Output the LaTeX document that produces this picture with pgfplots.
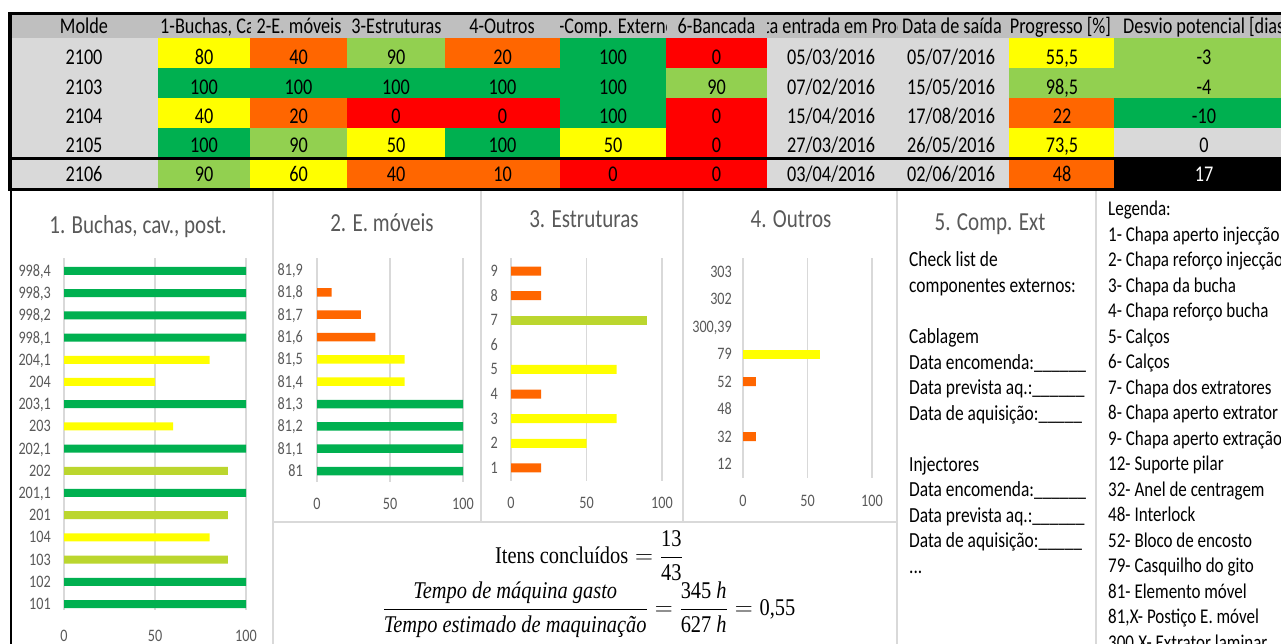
\documentclass[border=0pt]{standalone}
\usepackage{pgfplots}
\pgfplotsset{compat=1.18}
\usepackage{fontspec}
\setmainfont{Carlito}[FakeStretch=0.81]
\newfontfamily\fserif{Liberation Serif}[FakeStretch=0.85]
\definecolor{cgreen}{HTML}{00B050}
\definecolor{clgreen}{HTML}{92D050}
\definecolor{cyg}{HTML}{BBD62E}
\definecolor{cyellow}{HTML}{FFFF00}
\definecolor{corange}{HTML}{FF6600}
\definecolor{cred}{HTML}{FF0000}
\definecolor{cgray}{HTML}{D9D9D9}
\definecolor{chead}{HTML}{BFBFBF}
\definecolor{ctext}{HTML}{595959}
\definecolor{cgrid}{HTML}{D9D9D9}
\newcommand\tf{\fontsize{22.5}{27}\selectfont}
\newcommand\tx[3]{\node[anchor=base,inner sep=0pt] at (#1,#2) {\tf #3};}
\newcommand\cf[5]{\fill[#1] (#2,#4) rectangle (#3,#5);}
% first six columns of a row: baseline, molde, c1..c5
\newcommand\rowA[7]{\tx{84}{#1}{#2}\tx{204}{#1}{#3}\tx{298.5}{#1}{#4}\tx{396}{#1}{#5}\tx{502.5}{#1}{#6}\tx{613}{#1}{#7}}
% remaining columns: baseline, c6, entrada, saida, progresso
\newcommand\rowB[5]{\tx{716.5}{#1}{#2}\tx{831}{#1}{#3}\tx{951}{#1}{#4}\tx{1062}{#1}{#5}}
\pgfplotsset{
  xb/.style={
    scale only axis, xmin=0, xmax=100,
    xtick={0,50,100}, xticklabels={0,50,100},
    xmajorgrids, major grid style={cgrid, line width=1.3pt},
    axis line style={draw=none}, major tick length=0pt,
    tick label style={font=\fontsize{17.5}{20}\selectfont, text=ctext, text height=11pt, text depth=0pt, inner sep=0pt},
    xticklabel style={anchor=center},
    yticklabel style={anchor=east},
  },
  bb/.style={xbar, bar shift=0pt, draw=none, fill=#1},
}
\begin{document}
\begin{tikzpicture}[x=1pt,y=1pt]
\clip (0,0) rectangle (1281,644);
\fill[white] (0,0) rectangle (1281,644);
\begin{scope}[yshift=644pt,y=-1pt]
% ---- table fills
\cf{chead}{10}{1281}{13}{38}
\cf{cgray}{10}{158}{38}{190}
\cf{cgray}{767}{1009}{38}{190}
% row 2100
\cf{cyellow}{158}{250}{38}{68}
\cf{corange}{250}{347}{38}{68}
\cf{clgreen}{347}{445}{38}{68}
\cf{corange}{445}{560}{38}{68}
\cf{cgreen}{560}{666}{38}{68}
\cf{cred}{666}{767}{38}{68}
\cf{cyellow}{1009}{1114}{38}{68}
\cf{clgreen}{1114}{1281}{38}{68}
% row 2103
\cf{cgreen}{158}{666}{68}{98.5}
\cf{clgreen}{666}{767}{68}{98.5}
\cf{clgreen}{1009}{1114}{68}{98.5}
\cf{clgreen}{1114}{1281}{68}{98.5}
% row 2104
\cf{cyellow}{158}{250}{98.5}{128}
\cf{corange}{250}{347}{98.5}{128}
\cf{cred}{347}{560}{98.5}{128}
\cf{cgreen}{560}{666}{98.5}{128}
\cf{cred}{666}{767}{98.5}{128}
\cf{corange}{1009}{1114}{98.5}{128}
\cf{cgreen}{1114}{1281}{98.5}{128}
% row 2105
\cf{cgreen}{158}{250}{128}{158}
\cf{clgreen}{250}{347}{128}{158}
\cf{cyellow}{347}{445}{128}{158}
\cf{cgreen}{445}{560}{128}{158}
\cf{cyellow}{560}{666}{128}{158}
\cf{cred}{666}{767}{128}{158}
\cf{cyellow}{1009}{1114}{128}{158}
\cf{cgray}{1114}{1281}{128}{158}
% row 2106
\cf{clgreen}{158}{250}{158}{190}
\cf{cyellow}{250}{347}{158}{190}
\cf{corange}{347}{560}{158}{190}
\cf{cred}{560}{767}{158}{190}
\cf{corange}{1009}{1114}{158}{190}
\cf{black}{1114}{1281}{158}{190}
% ---- borders
\fill[black] (8,12) rectangle (1281,15);
\fill[black] (8,12) rectangle (11.5,191.5);
\fill[black] (8,157) rectangle (1281,160.5);
\fill[black] (8,188) rectangle (1281,191.5);
\fill[black] (9.5,191) rectangle (12,644);
% ---- header text
\tx{84}{34}{Molde}
\begin{scope}\clip (158,13) rectangle (250,38);
\node[anchor=base west,inner sep=0pt] at (160,34) {\tf 1-Buchas, Cav., Post.};\end{scope}
\tx{299}{34}{2-E. móveis}
\tx{396.5}{34}{3-Estruturas}
\tx{502}{34}{4-Outros}
\begin{scope}\clip (560,13) rectangle (666,38);
\node[anchor=base,inner sep=0pt] at (616,34) {\tf 5-Comp. Externos};\end{scope}
\tx{716.5}{34}{6-Bancada}
\begin{scope}\clip (767,13) rectangle (897,38);
\node[anchor=base,inner sep=0pt] at (843,34) {\tf Data entrada em Produção};\end{scope}
\tx{952}{34}{Data de saída}
\tx{1060.5}{34}{Progresso [\%]}
\node[anchor=base west,inner sep=0pt] at (1123,34) {\tf Desvio potencial [dias]};
% ---- rows text
\rowA{65}{2100}{80}{40}{90}{20}{100}
\rowB{65}{0}{05/03/2016}{05/07/2016}{55,5}
\tx{1204}{65}{-3}
\rowA{95}{2103}{100}{100}{100}{100}{100}
\rowB{95}{90}{07/02/2016}{15/05/2016}{98,5}
\tx{1204}{95}{-4}
\rowA{124}{2104}{40}{20}{0}{0}{100}
\rowB{124}{0}{15/04/2016}{17/08/2016}{22}
\tx{1204}{124}{-10}
\rowA{153}{2105}{100}{90}{50}{100}{50}
\rowB{153}{0}{27/03/2016}{26/05/2016}{73,5}
\tx{1204}{153}{0}
\rowA{182}{2106}{90}{60}{40}{10}{0}
\rowB{182}{0}{03/04/2016}{02/06/2016}{48}
\node[anchor=base,inner sep=0pt,text=white] at (1204,182) {\tf 17};
% ---- panel lines
\begin{scope}[cgrid,line width=2pt]
\draw (273,191.5) -- (273,644);
\draw (481,191.5) -- (481,522);
\draw (683,191.5) -- (683,522);
\draw (897,191.5) -- (897,644);
\draw (1096,191.5) -- (1096,644);
\draw (273,522) -- (897,522);
\end{scope}
% ---- titles
\begin{scope}[every node/.style={anchor=base,inner sep=0pt,text=ctext,font=\fontsize{26}{30}\selectfont}]
\node at (138,234) {1. Buchas, cav., post.};
\node at (382,232) {2. E. móveis};
\node at (584,228) {3. Estruturas};
\node at (791,228) {4. Outros};
\node at (990,231) {5. Comp. Ext};
\end{scope}
% ---- checklist
\begin{scope}[every node/.style={anchor=base west,inner sep=0pt,font=\fontsize{21.5}{25}\selectfont}]
\node at (909,267) {Check list de};
\node at (909,292.5) {componentes externos:};
\node at (909,344) {Cablagem};
\node at (909,369.5) {Data encomenda:\_\_\_\_\_\_};
\node at (909,395) {Data prevista aq.:\_\_\_\_\_\_};
\node at (909,420.5) {Data de aquisição:\_\_\_\_\_};
\node at (909,471.5) {Injectores};
\node at (909,497) {Data encomenda:\_\_\_\_\_\_};
\node at (909,522.5) {Data prevista aq.:\_\_\_\_\_\_};
\node at (909,548) {Data de aquisição:\_\_\_\_\_};
\node at (909,573.5) {...};
\end{scope}
% ---- legend
\begin{scope}[every node/.style={anchor=base west,inner sep=0pt,font=\fontsize{21}{25}\selectfont}]
\foreach \t [count=\n from 0] in {Legenda:,1- Chapa aperto injecção,2- Chapa reforço injecção,3- Chapa da bucha,4- Chapa reforço bucha,5- Calços,6- Calços,7- Chapa dos extratores,8- Chapa aperto extrator,9- Chapa aperto extração,12- Suporte pilar,32- Anel de centragem,48- Interlock,52- Bloco de encosto,79- Casquilho do gito,81- Elemento móvel,{81,X- Postiço E. móvel},{300,X- Extrator laminar}}
 {\node at (1108,{216+25.5*\n}) {\t};}
\end{scope}
% ---- formulas
\node[inner sep=0pt] at (589,556) {\fontsize{24}{28}\selectfont$\displaystyle\mbox{\fserif Itens concluídos} = \frac{\mbox{\fserif 13}}{\mbox{\fserif 43}}$};
\node[inner sep=0pt] at (589,610) {\fontsize{24}{28}\selectfont$\displaystyle\frac{\mbox{\fserif\itshape Tempo de máquina gasto}}{\mbox{\fserif\itshape Tempo estimado de maquinação}} = \frac{\mbox{\fserif 345 \itshape h}}{\mbox{\fserif 627 \itshape h}} = \mbox{\fserif 0,55}$};
\end{scope}
% ================= charts
% chart 1
\begin{axis}[xb, at={(64pt,34pt)}, anchor=south west, width=182pt, height=352pt,
  ymin=-0.27, ymax=15.585, ytick={0,...,15},
  yticklabels={101,102,103,104,201,{201,1},202,{202,1},203,{203,1},204,{204,1},{998,1},{998,2},{998,3},{998,4}},
  yticklabel style={xshift=-13pt}, xticklabel style={yshift=-26pt}, bar width=8pt]
\addplot[bb=cgreen] coordinates {(100,0) (100,1) (100,5) (100,7) (100,9) (100,12) (100,13) (100,14) (100,15)};
\addplot[bb=cyg] coordinates {(90,2) (90,4) (90,6)};
\addplot[bb=cyellow] coordinates {(80,3) (60,8) (50,10) (80,11)};
\end{axis}
% chart 2
\begin{axis}[xb, at={(317pt,162pt)}, anchor=south west, width=146pt, height=224pt,
  ymin=-0.49, ymax=9.54, ytick={0,...,9},
  yticklabels={81,{81,1},{81,2},{81,3},{81,4},{81,5},{81,6},{81,7},{81,8},{81,9}},
  yticklabel style={xshift=-14pt}, xticklabel style={yshift=-22pt}, bar width=8.5pt]
\addplot[bb=cgreen] coordinates {(100,0) (100,1) (100,2) (100,3)};
\addplot[bb=cyellow] coordinates {(60,4) (60,5)};
\addplot[bb=corange] coordinates {(40,6) (30,7) (10,8)};
\end{axis}
% chart 3
\begin{axis}[xb, at={(511pt,163pt)}, anchor=south west, width=151pt, height=223pt,
  ymin=0.47, ymax=9.53, ytick={1,...,9},
  yticklabels={1,2,3,4,5,6,7,8,9},
  yticklabel style={xshift=-13pt}, xticklabel style={yshift=-22pt}, bar width=9pt]
\addplot[bb=corange] coordinates {(20,1) (20,4) (20,8) (20,9)};
\addplot[bb=cyellow] coordinates {(50,2) (70,3) (70,5)};
\addplot[bb=cyg] coordinates {(90,7)};
\end{axis}
% chart 4
\begin{axis}[xb, at={(743pt,166pt)}, anchor=south west, width=129pt, height=220pt,
  ymin=-0.51, ymax=7.51, ytick={0,...,7},
  yticklabels={12,32,48,52,79,{300,39},302,303},
  yticklabel style={xshift=-11pt}, xticklabel style={yshift=-23pt}, bar width=9pt]
\addplot[bb=corange] coordinates {(10,1) (10,3)};
\addplot[bb=cyellow] coordinates {(60,4)};
\end{axis}
\end{tikzpicture}
\end{document}
